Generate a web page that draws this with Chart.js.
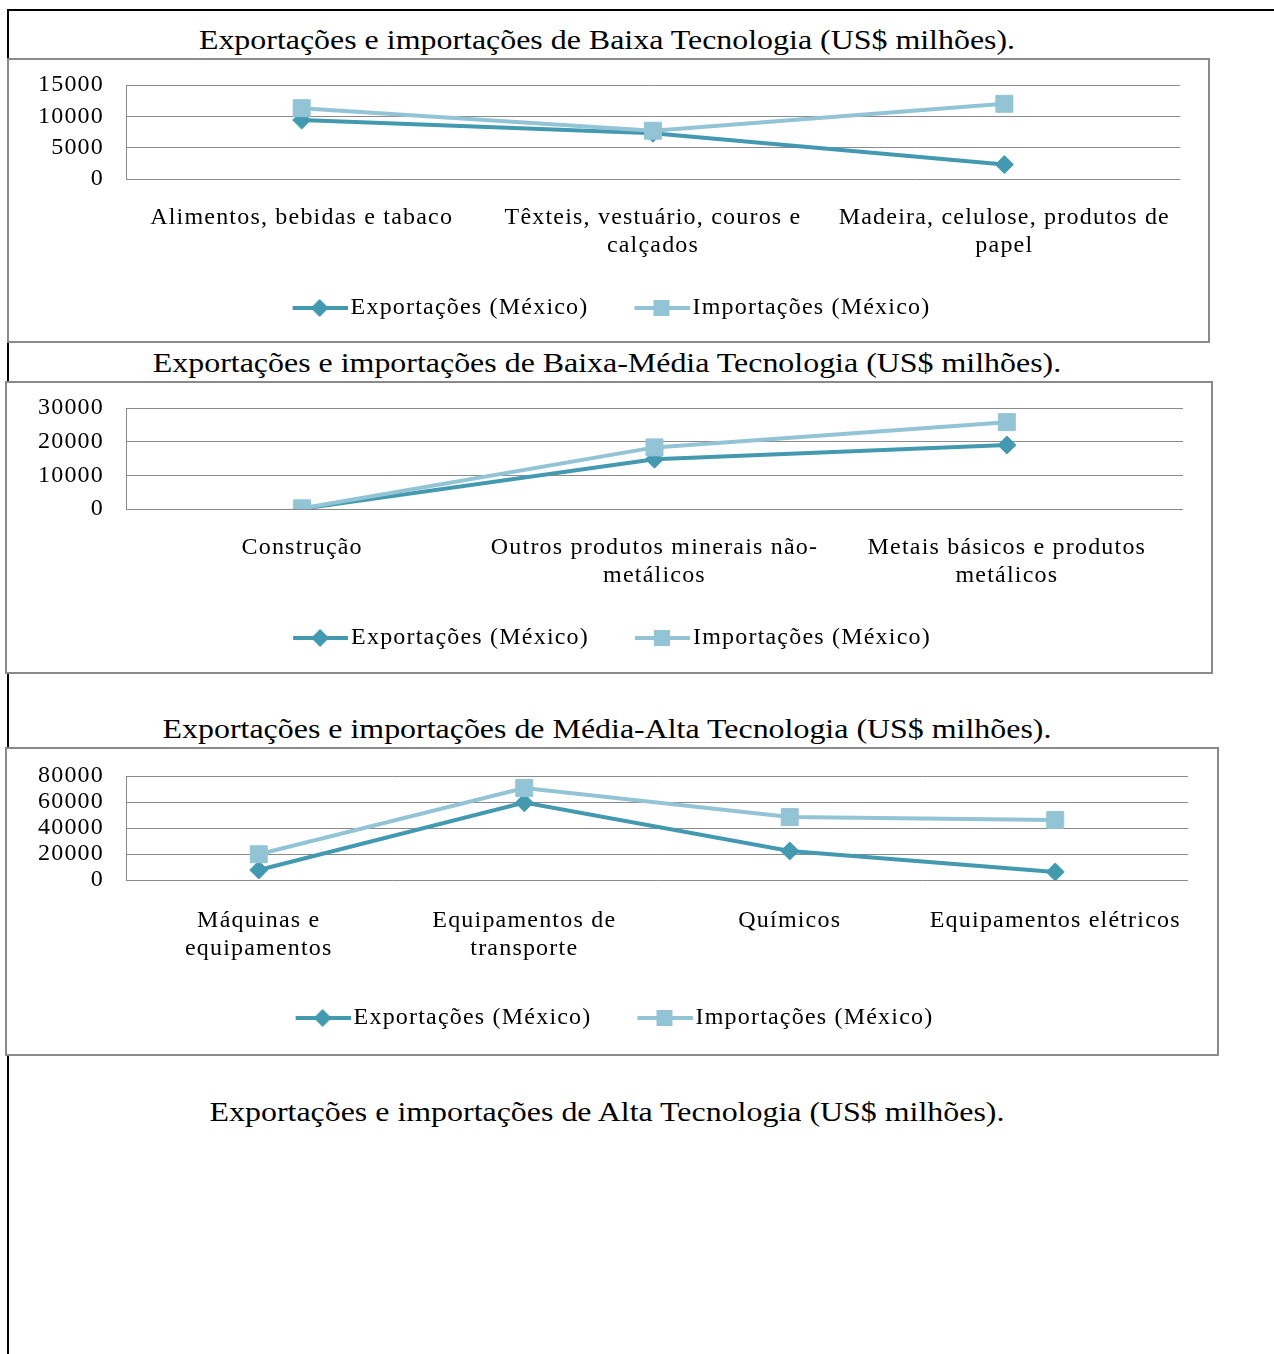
<!DOCTYPE html>
<html lang="pt">
<head>
<meta charset="utf-8">
<title>Exportações e importações por intensidade tecnológica</title>
<script src="https://cdn.jsdelivr.net/npm/chart.js@4/dist/chart.umd.min.js"></script>
<style>
  html, body { margin: 0; padding: 0; background: #fff; }
  body { position: relative; width: 1274px; height: 1354px; overflow: hidden;
         font-family: "Liberation Serif", "Times New Roman", serif; color: #000; }
  .rule { position: absolute; background: #000; }
  .title { position: absolute; left: 0; width: 1214px; text-align: center; font-size: 28px;
           line-height: 32px; white-space: nowrap; transform: scaleX(1.14); transform-origin: 607px 50%; }
  .box { position: absolute; background: #fff; }
  .box::after { content: ""; position: absolute; inset: 0; border: 2px solid #8a8a8a; pointer-events: none; }
  .box canvas { position: absolute; left: 0; top: 0; }
</style>
</head>
<body>
<div class="rule" style="left:7px; top:9px; width:1267px; height:2px;"></div>
<div class="rule" style="left:7px; top:9px; width:2px; height:1345px;"></div>

<div class="title" style="top:24px;">Exportações e importações de Baixa Tecnologia (US$ milhões).</div>
<div class="box" style="left:7px; top:58px; width:1203px; height:285px;"><canvas id="c1" width="1203" height="285"></canvas></div>

<div class="title" style="top:347px;">Exportações e importações de Baixa-Média Tecnologia (US$ milhões).</div>
<div class="box" style="left:5px; top:381px; width:1208px; height:293px;"><canvas id="c2" width="1208" height="293"></canvas></div>

<div class="title" style="top:713px;">Exportações e importações de Média-Alta Tecnologia (US$ milhões).</div>
<div class="box" style="left:5px; top:747px; width:1214px; height:309px;"><canvas id="c3" width="1214" height="309"></canvas></div>

<div class="title" style="top:1096px;">Exportações e importações de Alta Tecnologia (US$ milhões).</div>

<script>
// Baixa Tecnologia
const baixaCats = [["Alimentos, bebidas e tabaco"], ["Têxteis, vestuário, couros e", "calçados"], ["Madeira, celulose, produtos de", "papel"]];
const baixaExp = [9400, 7300, 2300];
const baixaImp = [11300, 7700, 12000];
const baixaTicks = [0, 15000, 5000];

// Baixa-Média Tecnologia
const baixaMediaCats = [["Construção"], ["Outros produtos minerais não-", "metálicos"], ["Metais básicos e produtos", "metálicos"]];
const baixaMediaExp = [100, 14800, 19000];
const baixaMediaImp = [200, 18300, 25800];
const baixaMediaTicks = [0, 30000, 10000];

// Média-Alta Tecnologia
const mediaAltaCats = [["Máquinas e", "equipamentos"], ["Equipamentos de", "transporte"], ["Químicos"], ["Equipamentos elétricos"]];
const mediaAltaExp = [7700, 59500, 22300, 6200];
const mediaAltaImp = [19800, 70800, 48400, 46200];
const mediaAltaTicks = [0, 80000, 20000];

const seriesNames = ["Exportações (México)", "Importações (México)"];
const expColor = "#4399b0";
const impColor = "#93c4d6";
const gridColor = "#8a8a8a";

Chart.defaults.font.family = '"Liberation Serif", "Times New Roman", serif';
Chart.defaults.font.size = 24;
Chart.defaults.color = "#000";

// legend icon: line with the marker in the middle (left half of the image is empty)
function legendIcon(color, square) {
  const c = document.createElement("canvas");
  c.width = 100; c.height = 24;
  const g = c.getContext("2d");
  g.strokeStyle = color; g.fillStyle = color; g.lineWidth = 4;
  g.beginPath(); g.moveTo(45, 12); g.lineTo(100, 12); g.stroke();
  const mx = 72;
  if (square) {
    g.fillRect(mx - 8, 4, 16, 16);
  } else {
    g.beginPath(); g.moveTo(mx, 3); g.lineTo(mx + 9, 12); g.lineTo(mx, 21); g.lineTo(mx - 9, 12); g.closePath(); g.fill();
  }
  return c;
}
const icons = [legendIcon(expColor, false), legendIcon(impColor, true)];

const spacing = {
  id: "spacing",
  beforeLayout(chart) { chart.ctx.letterSpacing = "1.2px"; },
  beforeDraw(chart) { chart.ctx.letterSpacing = "1.2px"; }
};

function makeChart(id, cats, exp, imp, ticks, lay) {
  new Chart(document.getElementById(id), {
    type: "line",
    data: {
      labels: cats,
      datasets: [
        { label: seriesNames[0], data: exp, borderColor: expColor, backgroundColor: expColor,
          borderWidth: 4, pointStyle: "rectRot", pointRadius: 9, pointBorderWidth: 1,
          pointBackgroundColor: expColor, pointBorderColor: expColor, tension: 0, order: 1 },
        { label: seriesNames[1], data: imp, borderColor: impColor, backgroundColor: impColor,
          borderWidth: 4, pointStyle: "rect", pointRadius: 12, pointBorderWidth: 1,
          pointBackgroundColor: impColor, pointBorderColor: impColor, tension: 0, order: 0 }
      ]
    },
    options: {
      responsive: false,
      animation: false,
      layout: { padding: { left: 0, top: lay.top, right: lay.right, bottom: lay.bottom } },
      plugins: {
        tooltip: { enabled: false },
        legend: {
          position: "bottom",
          labels: {
            usePointStyle: true,
            pointStyleWidth: 82,
            padding: 10,
            generateLabels: () => seriesNames.map((name, i) => ({
              text: name, pointStyle: icons[i], fillStyle: "transparent",
              strokeStyle: "transparent", lineWidth: 0, hidden: false, datasetIndex: i
            }))
          }
        }
      },
      scales: {
        x: {
          offset: true,
          grid: { display: false },
          border: { display: false },
          ticks: { maxRotation: 0, autoSkip: false, padding: lay.tickPad },
          afterFit: s => { s.height = lay.xAxisH; }
        },
        y: {
          min: ticks[0], max: ticks[1],
          grid: { color: gridColor, lineWidth: 1, drawTicks: true, tickLength: 22, tickColor: "transparent" },
          border: { display: true, color: gridColor, width: 1 },
          ticks: { stepSize: ticks[2], padding: 0, autoSkip: false, callback: v => String(v) },
          afterFit: s => { s.width = lay.plotLeft; }
        }
      }
    },
    plugins: [spacing]
  });
}

makeChart("c1", baixaCats, baixaExp, baixaImp, baixaTicks,
  { plotLeft: 119, top: 27, right: 30, bottom: 13, xAxisH: 107, tickPad: 16 });
makeChart("c2", baixaMediaCats, baixaMediaExp, baixaMediaImp, baixaMediaTicks,
  { plotLeft: 121, top: 27, right: 30, bottom: 14, xAxisH: 107, tickPad: 16 });
makeChart("c3", mediaAltaCats, mediaAltaExp, mediaAltaImp, mediaAltaTicks,
  { plotLeft: 121, top: 29, right: 31, bottom: 16, xAxisH: 116, tickPad: 18 });
</script>
</body>
</html>
